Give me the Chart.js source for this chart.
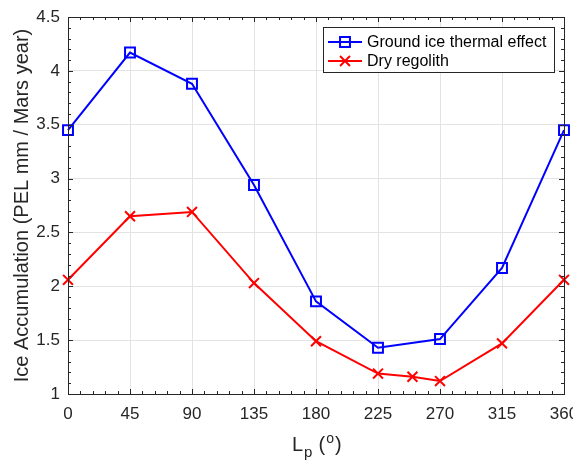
<!DOCTYPE html>
<html>
<head>
<meta charset="utf-8">
<script src="https://cdn.jsdelivr.net/npm/chart.js@4.4.0/dist/chart.umd.min.js"></script>
<style>
  html, body { margin: 0; padding: 0; background: #fff; }
</style>
</head>
<body>
<canvas id="chart" width="573" height="461"></canvas>
<script>
// perihelion longitude (deg) and ice accumulation values
const lpGround = [0, 45, 90, 135, 180, 225, 270, 315, 360];
const groundIce = [3.45, 4.17, 3.88, 2.94, 1.86, 1.43, 1.51, 2.17, 3.45];
const lpDry = [0, 45, 90, 135, 180, 225, 250, 270, 315, 360];
const dryRegolith = [2.06, 2.65, 2.69, 2.03, 1.49, 1.19, 1.16, 1.12, 1.47, 2.06];

const seriesLabels = ['Ground ice thermal effect', 'Dry regolith'];
const yTitle = 'Ice Accumulation (PEL mm / Mars year)';

const FONT = '"Liberation Sans", Arial, Helvetica, sans-serif';
const AXIS_COLOR = '#262626';

const toPoints = (xs, ys) => xs.map((x, i) => ({ x: x, y: ys[i] }));

// MATLAB-like box with inward ticks, axis label with sub/superscript, legend inside
const matlabAxes = {
    id: 'matlabAxes',
    afterDraw(chart) {
        const ctx = chart.ctx;
        const a = chart.chartArea;
        const xs = chart.scales.x, ys = chart.scales.y;
        ctx.save();
        ctx.strokeStyle = AXIS_COLOR;
        ctx.lineWidth = 1;

        // ticks
        ctx.beginPath();
        for (let v = xs.min; v <= xs.max + 1e-9; v += 9) {
            const px = Math.round(xs.getPixelForValue(v)) + 0.5;
            const len = (v % 45 === 0) ? 5 : 3;
            ctx.moveTo(px, a.bottom); ctx.lineTo(px, a.bottom - len);
            ctx.moveTo(px, a.top); ctx.lineTo(px, a.top + len);
        }
        for (let i = 0; i <= 35; i++) {
            const v = ys.min + i * 0.1;
            const py = Math.round(ys.getPixelForValue(v)) + 0.5;
            const len = (i % 5 === 0) ? 5 : 3;
            ctx.moveTo(a.left, py); ctx.lineTo(a.left + len, py);
            ctx.moveTo(a.right, py); ctx.lineTo(a.right - len, py);
        }
        ctx.stroke();

        // box
        ctx.strokeRect(Math.round(a.left) + 0.5, Math.round(a.top) + 0.5,
            Math.round(a.right - a.left), Math.round(a.bottom - a.top));

        // y title
        ctx.fillStyle = AXIS_COLOR;
        ctx.font = '20px ' + FONT;
        ctx.textAlign = 'center';
        ctx.textBaseline = 'middle';
        ctx.translate(22, (a.top + a.bottom) / 2);
        ctx.rotate(-Math.PI / 2);
        ctx.fillText(yTitle, 0, 0);
        ctx.setTransform(1, 0, 0, 1, 0, 0);

        // x title: L_p (^o)
        const parts = [
            { t: 'L', size: 20, dy: 0, gap: 1 },
            { t: 'p', size: 15, dy: 6, gap: 6 },
            { t: '(', size: 20, dy: 0, gap: 1 },
            { t: 'o', size: 14, dy: -8, gap: 1 },
            { t: ')', size: 20, dy: 0, gap: 0 }
        ];
        ctx.textAlign = 'left';
        ctx.textBaseline = 'alphabetic';
        let cx = 292;
        const base = 451;
        parts.forEach(p => {
            ctx.font = p.size + 'px ' + FONT;
            ctx.fillText(p.t, cx, base + p.dy);
            cx += ctx.measureText(p.t).width + p.gap;
        });

        // legend
        const lx = 323, ly = 27, lw = 231, lh = 45;
        ctx.fillStyle = '#fff';
        ctx.fillRect(lx, ly, lw, lh);
        ctx.strokeStyle = '#262626';
        ctx.strokeRect(lx + 0.5, ly + 0.5, lw, lh);
        ctx.font = '16px ' + FONT;
        ctx.textBaseline = 'middle';
        chart.data.datasets.forEach((ds, i) => {
            const y = ly + 15 + i * 19;
            ctx.strokeStyle = ds.borderColor;
            ctx.lineWidth = 2;
            ctx.beginPath();
            ctx.moveTo(lx + 5, y); ctx.lineTo(lx + 39, y);
            ctx.stroke();
            ctx.fillStyle = ds.pointBackgroundColor;
            Chart.helpers.drawPoint(ctx, {
                pointStyle: ds.pointStyle, radius: ds.pointRadius,
                borderWidth: ds.pointBorderWidth, rotation: 0
            }, lx + 22, y);
            ctx.fillStyle = '#000';
            ctx.fillText(ds.label, lx + 44, y + 1);
        });
        ctx.restore();
    }
};

new Chart(document.getElementById('chart'), {
    type: 'line',
    data: {
        datasets: [{
            label: seriesLabels[0],
            data: toPoints(lpGround, groundIce),
            borderColor: '#0000ff',
            borderWidth: 2,
            pointStyle: 'rect',
            pointRadius: 7,
            pointBorderWidth: 2,
            pointBorderColor: '#0000ff',
            pointBackgroundColor: 'rgba(0,0,0,0)',
            tension: 0,
            clip: false
        }, {
            label: seriesLabels[1],
            data: toPoints(lpDry, dryRegolith),
            borderColor: '#ff0000',
            borderWidth: 2,
            pointStyle: 'crossRot',
            pointRadius: 7,
            pointBorderWidth: 2,
            pointBorderColor: '#ff0000',
            pointBackgroundColor: 'rgba(0,0,0,0)',
            tension: 0,
            clip: false
        }]
    },
    options: {
        responsive: false,
        animation: false,
        devicePixelRatio: 1,
        layout: { padding: { top: 17, right: 8, left: 0, bottom: 0 } },
        plugins: { legend: { display: false }, tooltip: { enabled: false } },
        scales: {
            x: {
                type: 'linear',
                min: 0, max: 360,
                ticks: { stepSize: 45, padding: 10, color: AXIS_COLOR, font: { family: FONT, size: 17 }, maxRotation: 0 },
                grid: { color: '#e3e3e3', drawTicks: false },
                border: { display: false },
                afterFit(scale) { scale.height = 67; scale.paddingLeft = 0; scale.paddingRight = 0; }
            },
            y: {
                min: 1, max: 4.5,
                ticks: { stepSize: 0.5, padding: 8, color: AXIS_COLOR, font: { family: FONT, size: 17 },
                    callback: v => String(v) },
                grid: { color: '#e3e3e3', drawTicks: false },
                border: { display: false },
                afterFit(scale) { scale.width = 68; scale.paddingTop = 0; scale.paddingBottom = 0; }
            }
        }
    },
    plugins: [matlabAxes]
});
</script>
</body>
</html>
